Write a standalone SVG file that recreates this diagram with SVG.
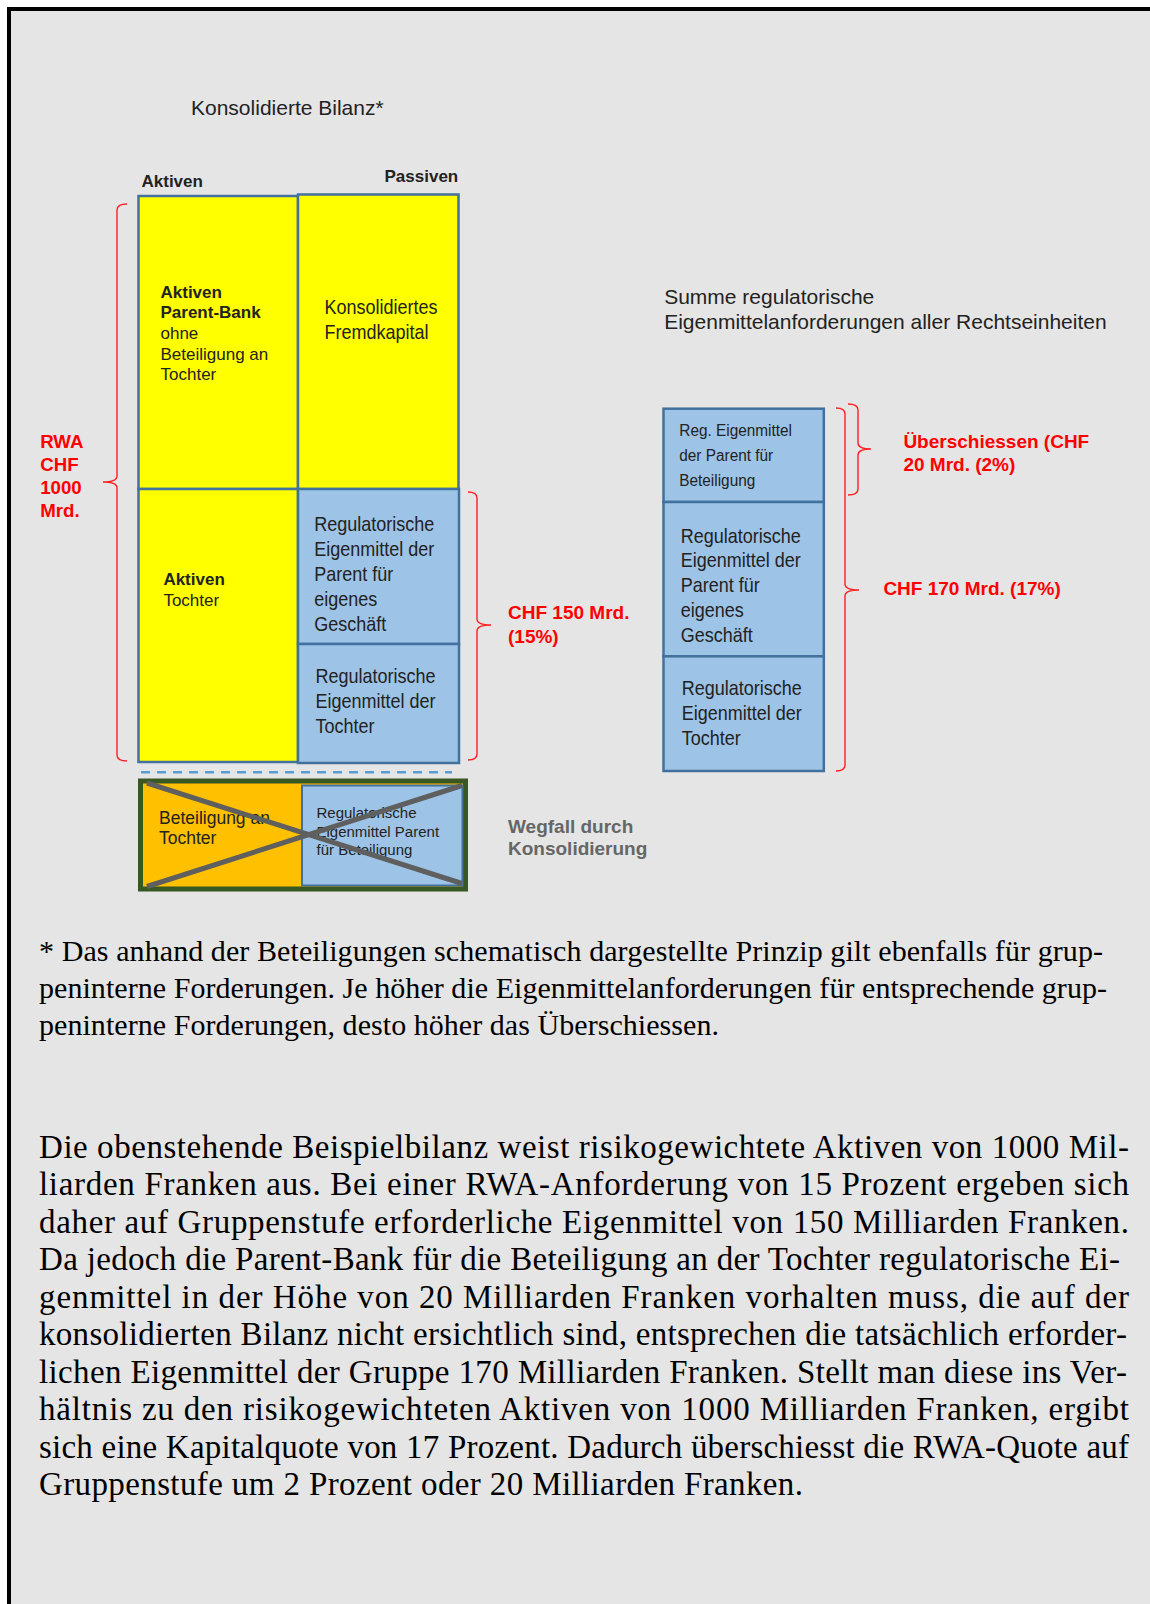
<svg xmlns="http://www.w3.org/2000/svg" width="1150" height="1604" viewBox="0 0 1150 1604">
<style>
.sans{font-family:"Liberation Sans",Arial,sans-serif;fill:#222}
.b{font-weight:bold}
.red{fill:#FF0000;font-weight:bold;font-family:"Liberation Sans",Arial,sans-serif}
.gray{fill:#666;font-weight:bold;font-family:"Liberation Sans",Arial,sans-serif}
.serif{font-family:"Liberation Serif","Times New Roman",serif;fill:#000}
.yel{fill:#FFFF00;stroke:#41719C;stroke-width:2.5}
.blu{fill:#9DC3E6;stroke:#41719C;stroke-width:2.5}
.brace{fill:none;stroke:#FF2020;stroke-width:1.4}
</style>
<rect x="0" y="0" width="1150" height="1604" fill="#FFFFFF"/>
<rect x="9" y="9" width="1160" height="1620" fill="#E5E5E5" stroke="#000" stroke-width="4"/>

<g id="title-bilanz"><text class="sans" x="191" y="115" font-size="21">Konsolidierte Bilanz*</text></g>
<g id="label-aktiven"><text class="sans b" x="141.5" y="186.5" font-size="17">Aktiven</text></g>
<g id="label-passiven"><text class="sans b" x="384.5" y="181.5" font-size="17">Passiven</text></g>

<g id="node-aktiven-parent">
<rect class="yel" x="138.5" y="196" width="159.5" height="293"/>
<text class="sans" font-size="17"><tspan class="b" x="160.5" y="297.5">Aktiven</tspan><tspan class="b" x="160.5" y="318">Parent-Bank</tspan><tspan x="160.5" y="339">ohne</tspan><tspan x="160.5" y="359.5">Beteiligung an</tspan><tspan x="160.5" y="380">Tochter</tspan></text>
</g>
<g id="node-fremdkapital">
<rect class="yel" x="298" y="194.5" width="160.5" height="294.5"/>
<text class="sans" font-size="20" transform="translate(324.5,314.3) scale(0.9,1)"><tspan x="0" y="0">Konsolidiertes</tspan><tspan x="0" y="25">Fremdkapital</tspan></text>
</g>
<g id="node-aktiven-tochter">
<rect class="yel" x="138.5" y="489" width="159.5" height="273"/>
<text class="sans" font-size="17"><tspan class="b" x="163.4" y="585">Aktiven</tspan><tspan x="163.4" y="605.5">Tochter</tspan></text>
</g>
<g id="node-reg-parent">
<rect class="blu" x="298" y="489" width="161" height="155"/>
<text class="sans" font-size="20" transform="translate(314.3,531) scale(0.9,1)"><tspan x="0" y="0">Regulatorische</tspan><tspan x="0" y="25">Eigenmittel der</tspan><tspan x="0" y="50">Parent für</tspan><tspan x="0" y="75">eigenes</tspan><tspan x="0" y="100">Geschäft</tspan></text>
</g>
<g id="node-reg-tochter">
<rect class="blu" x="298" y="644" width="161" height="119"/>
<text class="sans" font-size="20" transform="translate(315.6,682.5) scale(0.9,1)"><tspan x="0" y="0">Regulatorische</tspan><tspan x="0" y="25.5">Eigenmittel der</tspan><tspan x="0" y="51">Tochter</tspan></text>
</g>

<g id="node-wegfall-box">
<rect x="140.5" y="781" width="325" height="108" fill="#FFC000" stroke="#385723" stroke-width="5"/>
<rect x="302" y="785.5" width="160.5" height="100" fill="#9DC3E6" stroke="#41719C" stroke-width="2"/>
<text class="sans" font-size="17.5"><tspan x="159" y="823.5">Beteiligung an</tspan><tspan x="159" y="844">Tochter</tspan></text>
<text class="sans" font-size="15"><tspan x="316.5" y="817.7">Regulatorische</tspan><tspan x="316.5" y="836.5">Eigenmittel Parent</tspan><tspan x="316.5" y="855">für Beteiligung</tspan></text>
<line x1="147" y1="783" x2="462" y2="883.5" stroke="#5F5F5F" stroke-width="5"/>
<line x1="147" y1="886.5" x2="462" y2="785.5" stroke="#5F5F5F" stroke-width="5"/>
</g>
<g id="label-wegfall"><text class="gray" font-size="19"><tspan x="508" y="833.3">Wegfall durch</tspan><tspan x="508" y="855">Konsolidierung</tspan></text></g>

<g id="title-summe"><text class="sans" font-size="21"><tspan x="664.2" y="304.3">Summe regulatorische</tspan><tspan x="664.2" y="329">Eigenmittelanforderungen aller Rechtseinheiten</tspan></text></g>

<g id="node-reg-beteiligung">
<rect class="blu" x="663.5" y="408.7" width="160.3" height="93.3"/>
<text class="sans" font-size="16" transform="translate(679.3,436) scale(0.96,1)"><tspan x="0" y="0">Reg. Eigenmittel</tspan><tspan x="0" y="25">der Parent für</tspan><tspan x="0" y="50.5">Beteiligung</tspan></text>
</g>
<g id="node-reg-parent-2">
<rect class="blu" x="663.5" y="502" width="160.3" height="154.3"/>
<text class="sans" font-size="20" transform="translate(680.7,542.5) scale(0.9,1)"><tspan x="0" y="0">Regulatorische</tspan><tspan x="0" y="25">Eigenmittel der</tspan><tspan x="0" y="50">Parent für</tspan><tspan x="0" y="75">eigenes</tspan><tspan x="0" y="100">Geschäft</tspan></text>
</g>
<g id="node-reg-tochter-2">
<rect class="blu" x="663.5" y="656.3" width="160.3" height="114.7"/>
<text class="sans" font-size="20" transform="translate(681.7,694.5) scale(0.9,1)"><tspan x="0" y="0">Regulatorische</tspan><tspan x="0" y="25.5">Eigenmittel der</tspan><tspan x="0" y="50.5">Tochter</tspan></text>
</g>

<g id="connectors">
<path class="brace" d="M127,204 Q117,204 117,210 V476 Q117,482 103,482 Q117,482 117,488 V755 Q117,761 127,761"/>
<path class="brace" d="M468,492 Q477,492 477,498 V619 Q477,625 491,625 Q477,625 477,631 V754 Q477,760 468,760"/>
<path class="brace" d="M836,408 Q845,408 845,414 V584 Q845,590 859,590 Q845,590 845,596 V765 Q845,771 836,771"/>
<path class="brace" d="M848,404 Q858,404 858,410 V443 Q858,449 871,449 Q858,449 858,455 V489 Q858,495 848,495"/>
<line x1="141" y1="772.3" x2="452" y2="772.3" stroke="#5B9BD5" stroke-width="2.5" stroke-dasharray="9 7"/>
</g>

<g id="label-rwa"><text class="red" font-size="18.7"><tspan x="40.2" y="448">RWA</tspan><tspan x="40.2" y="471">CHF</tspan><tspan x="40.2" y="494">1000</tspan><tspan x="40.2" y="517">Mrd.</tspan></text></g>
<g id="label-150"><text class="red" font-size="19"><tspan x="508" y="619.3">CHF 150 Mrd.</tspan><tspan x="508" y="642.7">(15%)</tspan></text></g>
<g id="label-ueberschiessen"><text class="red" font-size="19"><tspan x="903.4" y="448.3">Überschiessen (CHF</tspan><tspan x="903.4" y="471">20 Mrd. (2%)</tspan></text></g>
<g id="label-170"><text class="red" font-size="19" x="883.4" y="595">CHF 170 Mrd. (17%)</text></g>

<g id="footnote" class="serif" font-size="30">
<text class="serif" x="39" y="961" textLength="1064" lengthAdjust="spacing" font-size="30">* Das anhand der Beteiligungen schematisch dargestellte Prinzip gilt ebenfalls für grup-</text>
<text class="serif" x="39" y="998" textLength="1068" lengthAdjust="spacing" font-size="30">peninterne Forderungen. Je höher die Eigenmittelanforderungen für entsprechende grup-</text>
<text class="serif" x="39" y="1035" textLength="680" lengthAdjust="spacing" font-size="30">peninterne Forderungen, desto höher das Überschiessen.</text>
</g>

<g id="paragraph" font-size="33">
<text class="serif" font-size="33" x="39" y="1157.5" textLength="1090" lengthAdjust="spacing">Die obenstehende Beispielbilanz weist risikogewichtete Aktiven von 1000 Mil-</text>
<text class="serif" font-size="33" x="39" y="1195" textLength="1090" lengthAdjust="spacing">liarden Franken aus. Bei einer RWA-Anforderung von 15 Prozent ergeben sich</text>
<text class="serif" font-size="33" x="39" y="1232.5" textLength="1090" lengthAdjust="spacing">daher auf Gruppenstufe erforderliche Eigenmittel von 150 Milliarden Franken.</text>
<text class="serif" font-size="33" x="39" y="1270" textLength="1081" lengthAdjust="spacing">Da jedoch die Parent-Bank für die Beteiligung an der Tochter regulatorische Ei-</text>
<text class="serif" font-size="33" x="39" y="1307.5" textLength="1090" lengthAdjust="spacing">genmittel in der Höhe von 20 Milliarden Franken vorhalten muss, die auf der</text>
<text class="serif" font-size="33" x="39" y="1345" textLength="1088" lengthAdjust="spacing">konsolidierten Bilanz nicht ersichtlich sind, entsprechen die tatsächlich erforder-</text>
<text class="serif" font-size="33" x="39" y="1382.5" textLength="1088" lengthAdjust="spacing">lichen Eigenmittel der Gruppe 170 Milliarden Franken. Stellt man diese ins Ver-</text>
<text class="serif" font-size="33" x="39" y="1420" textLength="1090" lengthAdjust="spacing">hältnis zu den risikogewichteten Aktiven von 1000 Milliarden Franken, ergibt</text>
<text class="serif" font-size="33" x="39" y="1457.5" textLength="1090" lengthAdjust="spacing">sich eine Kapitalquote von 17 Prozent. Dadurch überschiesst die RWA-Quote auf</text>
<text class="serif" font-size="33" x="39" y="1495" textLength="764" lengthAdjust="spacing">Gruppenstufe um 2 Prozent oder 20 Milliarden Franken.</text>
</g>
</svg>
